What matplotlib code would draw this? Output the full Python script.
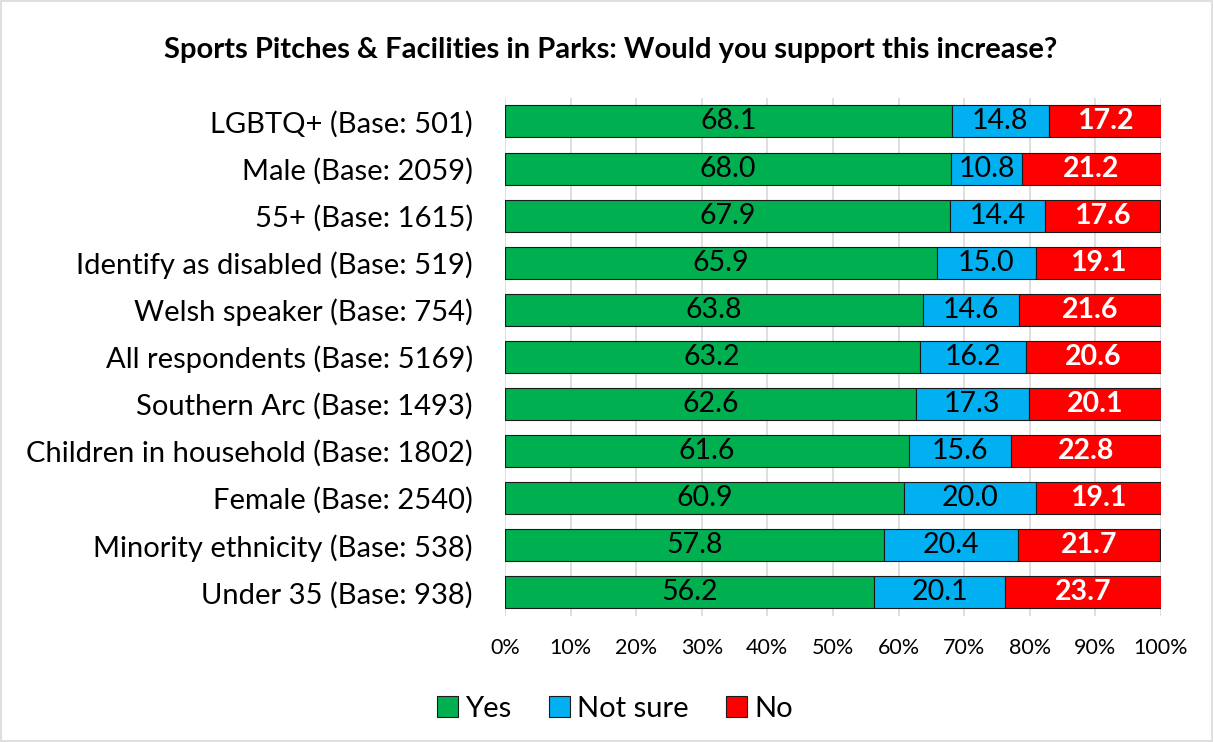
import numpy as np
import matplotlib
matplotlib.use("Agg")
import matplotlib.pyplot as plt
from matplotlib.patches import Rectangle

groups = ["LGBTQ+ (Base: 501)", "Male (Base: 2059)", "55+ (Base: 1615)",
          "Identify as disabled (Base: 519)", "Welsh speaker (Base: 754)",
          "All respondents (Base: 5169)", "Southern Arc (Base: 1493)",
          "Children in household (Base: 1802)", "Female (Base: 2540)",
          "Minority ethnicity (Base: 538)", "Under 35 (Base: 938)"]
yes = [68.1, 68.0, 67.9, 65.9, 63.8, 63.2, 62.6, 61.6, 60.9, 57.8, 56.2]
not_sure = [14.8, 10.8, 14.4, 15.0, 14.6, 16.2, 17.3, 15.6, 20.0, 20.4, 20.1]
no = [17.2, 21.2, 17.6, 19.1, 21.6, 20.6, 20.1, 22.8, 19.1, 21.7, 23.7]
series = ["Yes", "Not sure", "No"]
colors = ["#00B050", "#00B0F0", "#FF0000"]

plt.rcParams["font.family"] = ["Lato", "DejaVu Sans"]

fig = plt.figure(figsize=(12.13, 7.42), dpi=100)
fig.patches.append(Rectangle((0.001, 0.001), 0.998, 0.998, transform=fig.transFigure,
                             fill=False, edgecolor="#d9d9d9", linewidth=1.2))
ax = fig.add_axes([0.4163, 0.170, 0.5408, 0.698])

y = np.arange(len(groups))
left = np.zeros(len(groups))
for name, vals, col in zip(series, [yes, not_sure, no], colors):
    vals = np.array(vals)
    bars = ax.barh(y, vals, left=left, height=0.68, color=col, edgecolor="#1a1a1a",
                   linewidth=0.8, label=name, zorder=3)
    for b, v in zip(bars, vals):
        cx = b.get_x() + b.get_width() / 2
        if name == "No":
            ax.text(cx, b.get_y() + b.get_height() / 2, f"{v:.1f}", ha="center", va="center",
                    color="white", fontsize=20.5, fontweight="bold", zorder=4)
        else:
            ax.text(cx, b.get_y() + b.get_height() / 2, f"{v:.1f}", ha="center", va="center",
                    color="black", fontsize=20.5, zorder=4)
    left += vals

ax.set_xlim(0, 100)
ax.set_ylim(len(groups) - 0.5, -0.5)
ax.set_yticks(y)
ax.set_yticklabels(groups, fontsize=21)
ax.set_xticks(np.arange(0, 101, 10))
ax.set_xticklabels([f"{v}%" for v in range(0, 101, 10)], fontsize=15.5)
ax.tick_params(axis="y", length=0, pad=23)
ax.tick_params(axis="x", length=0, pad=16)
ax.grid(axis="x", color="#d9d9d9", linewidth=1.2, zorder=0)
for s in ax.spines.values():
    s.set_visible(False)

fig.text(0.503, 0.932, "Sports Pitches & Facilities in Parks: Would you support this increase?",
         ha="center", va="center", fontsize=21, fontweight="bold")

fig.legend(loc="center", bbox_to_anchor=(0.507, 0.045), ncol=3, frameon=False,
           fontsize=21, handlelength=0.7, handleheight=0.7, columnspacing=1.3,
           handletextpad=0.25)

fig.savefig("out.png", dpi=100)
